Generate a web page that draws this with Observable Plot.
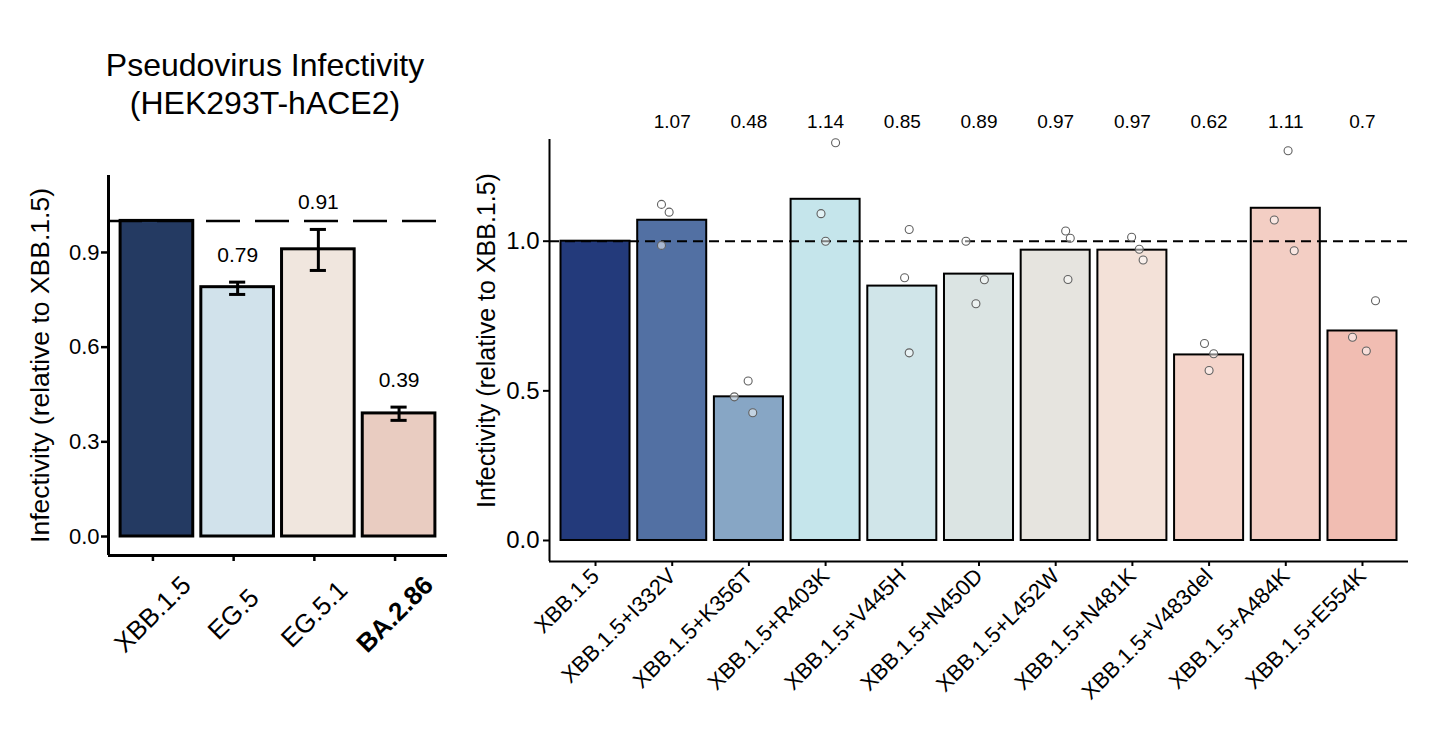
<!DOCTYPE html>
<html><head><meta charset="utf-8">
<script src="https://cdn.jsdelivr.net/npm/d3@7"></script>
<script src="https://cdn.jsdelivr.net/npm/@observablehq/plot@0.6"></script>
<style>
body{margin:0;background:#fff;}
#wrap{position:relative;width:1429px;height:747px;font-family:"Liberation Sans",Arial,sans-serif;overflow:hidden;}
#title{position:absolute;left:65px;width:400px;top:46px;text-align:center;font-size:32px;line-height:38px;color:#000;}
#left{position:absolute;left:0;top:150px;}
#right{position:absolute;left:440px;top:100px;}
</style></head><body>
<div id="wrap"><div id="title">Pseudovirus Infectivity<br>(HEK293T-hACE2)</div><div id="left"></div><div id="right"></div></div>
<script>
// ---- Left panel data ----
const leftNames  = ["XBB.1.5", "EG.5", "EG.5.1", "BA.2.86"];
const leftMeans  = [1.00, 0.79, 0.91, 0.39];
const leftErrLo  = [null, 0.767, 0.843, 0.368];
const leftErrHi  = [null, 0.806, 0.973, 0.410];
const leftLabels = [null, "0.79", "0.91", "0.39"];
const leftColors = ["#243a62", "#d1e2eb", "#f0e6de", "#e9ccc1"];
const leftYTicks = [0, 0.3, 0.6, 0.9];

// ---- Right panel data ----
const rightNames = ["XBB.1.5", "XBB.1.5+I332V", "XBB.1.5+K356T", "XBB.1.5+R403K", "XBB.1.5+V445H",
  "XBB.1.5+N450D", "XBB.1.5+L452W", "XBB.1.5+N481K", "XBB.1.5+V483del", "XBB.1.5+A484K", "XBB.1.5+E554K"];
const rightMeans  = [1.00, 1.07, 0.48, 1.14, 0.85, 0.89, 0.97, 0.97, 0.62, 1.11, 0.70];
const rightLabels = [null, "1.07", "0.48", "1.14", "0.85", "0.89", "0.97", "0.97", "0.62", "1.11", "0.7"];
const rightColors = ["#233a7b", "#5270a3", "#87a6c5", "#c5e5eb", "#d0e5e9", "#dbe4e3",
  "#e6e4df", "#f3e1d8", "#f4d4ca", "#f3cec4", "#f1bdb2"];
// replicate values (XBB.1.5 reference has none drawn)
const rep1 = [null, 1.123, 0.533, 1.329, 1.039, 1.000, 1.034, 1.013, 0.658, 1.302, 0.801];
const rep2 = [null, 1.097, 0.480, 1.092, 0.878, 0.871, 1.010, 0.973, 0.624, 1.071, 0.679];
const rep3 = [null, 0.986, 0.427, 1.000, 0.627, 0.791, 0.872, 0.937, 0.568, 0.968, 0.633];
// horizontal jitter of replicates (in category units)
const jit1 = [0, -0.14, -0.01, 0.13, 0.09, -0.17, 0.13, -0.01, -0.06, 0.03, 0.17];
const jit2 = [0, -0.04, -0.19, -0.06, 0.03, 0.07, 0.19, 0.09, 0.06, -0.15, -0.13];
const jit3 = [0, -0.14, 0.05, 0.00, 0.09, -0.04, 0.16, 0.14, 0.00, 0.11, 0.05];
const rightYTicks = [0, 0.5, 1.0];

const FONT = "'Liberation Sans', Arial, sans-serif";
const BAR_W = 0.45;

// ---------- Left plot ----------
const leftData = leftNames.map((name, k) => ({i: k + 1, name, mean: leftMeans[k], lo: leftErrLo[k], hi: leftErrHi[k], label: leftLabels[k], fill: leftColors[k]}));
const errData = leftData.filter(d => d.lo != null);
const leftXDomain = [0.4, leftNames.length + 0.6];
const leftYDomain = [-0.0602, 1.1439];

const leftPlot = Plot.plot({
  width: 460, height: 560,
  marginLeft: 108, marginRight: 13, marginTop: 25, marginBottom: 155,
  x: {type: "linear", domain: leftXDomain, axis: null},
  y: {domain: leftYDomain, axis: null},
  color: {type: "identity"},
  style: {fontFamily: FONT, background: "transparent", color: "#000", overflow: "visible"},
  marks: [
    Plot.rect(leftData, {x1: d => d.i - BAR_W, x2: d => d.i + BAR_W, y1: 0, y2: "mean", fill: "fill", stroke: "#000", strokeWidth: 3}),
    Plot.ruleY([1], {stroke: "#000", strokeWidth: 2.5, strokeDasharray: "34,15"}),
    Plot.ruleX(errData, {x: "i", y1: "lo", y2: "hi", stroke: "#000", strokeWidth: 3}),
    Plot.ruleY(errData, {y: "lo", x1: d => d.i - 0.1, x2: d => d.i + 0.1, stroke: "#000", strokeWidth: 3}),
    Plot.ruleY(errData, {y: "hi", x1: d => d.i - 0.1, x2: d => d.i + 0.1, stroke: "#000", strokeWidth: 3}),
    Plot.text(errData, {x: "i", y: "hi", text: "label", dy: -27, fontSize: 21, fill: "#000"}),
    Plot.ruleX([leftXDomain[0]], {stroke: "#000", strokeWidth: 3}),
    Plot.ruleY([leftYDomain[0]], {stroke: "#000", strokeWidth: 3}),
    Plot.axisY({ticks: leftYTicks, tickFormat: d => d.toFixed(1), tickSize: 7, tickPadding: 2, fontSize: 22, strokeWidth: 2.5, label: null}),
    Plot.axisX({ticks: d3.range(1, leftNames.length + 1), tickFormat: i => leftNames[i - 1], tickSize: 6, strokeWidth: 2.5,
      tickRotate: -45, textAnchor: "middle", lineAnchor: "middle", tickPadding: 53, dx: -4, fontSize: 26, label: null}),
    Plot.text(["Infectivity (relative to XBB.1.5)"], {frameAnchor: "left", textAnchor: "middle", lineAnchor: "middle", rotate: -90, dx: -68, fontSize: 26.5, fill: "#000"})
  ]
});
d3.select(leftPlot).selectAll("text").filter(function() { return this.textContent === "BA.2.86"; }).attr("font-weight", "bold");
document.getElementById("left").appendChild(leftPlot);

// ---------- Right plot ----------
const rightData = rightNames.map((name, k) => ({i: k + 1, name, mean: rightMeans[k], label: rightLabels[k], fill: rightColors[k]}));
const pts = [];
rightNames.forEach((name, k) => {
  [[rep1, jit1], [rep2, jit2], [rep3, jit3]].forEach(([r, j]) => {
    if (r[k] != null) pts.push({i: k + 1, v: r[k], jit: j[k]});
  });
});
const rightXDomain = [0.4, rightNames.length + 0.6];
const rightYDomain = [-0.0702, 1.3398];

const rightPlot = Plot.plot({
  width: 989, height: 620,
  marginLeft: 109, marginRight: 21, marginTop: 39, marginBottom: 159,
  x: {type: "linear", domain: rightXDomain, axis: null},
  y: {domain: rightYDomain, axis: null},
  color: {type: "identity"},
  style: {fontFamily: FONT, background: "transparent", color: "#000", overflow: "visible"},
  marks: [
    Plot.rect(rightData, {x1: d => d.i - BAR_W, x2: d => d.i + BAR_W, y1: 0, y2: "mean", fill: "fill", stroke: "#000", strokeWidth: 2}),
    Plot.ruleY([1], {stroke: "#000", strokeWidth: 2, strokeDasharray: "10,6"}),
    Plot.dot(pts, {x: d => d.i + d.jit, y: "v", r: 4, stroke: "#606060", strokeWidth: 1.1, fill: "#ffffff", fillOpacity: 0.5}),
    Plot.text(rightData.filter(d => d.label != null), {x: "i", frameAnchor: "top", lineAnchor: "middle", dy: -18, text: "label", fontSize: 19, fill: "#000"}),
    Plot.ruleX([rightXDomain[0]], {stroke: "#000", strokeWidth: 2}),
    Plot.ruleY([rightYDomain[0]], {stroke: "#000", strokeWidth: 2}),
    Plot.axisY({ticks: rightYTicks, tickFormat: d => d.toFixed(1), tickSize: 6, tickPadding: 4, fontSize: 24, strokeWidth: 2, label: null}),
    Plot.axisX({ticks: d3.range(1, rightNames.length + 1), tickFormat: i => rightNames[i - 1], tickSize: 5, strokeWidth: 2,
      tickRotate: -45, tickPadding: 6, fontSize: 22, label: null}),
    Plot.text(["Infectivity (relative to XBB.1.5)"], {frameAnchor: "left", textAnchor: "middle", lineAnchor: "middle", rotate: -90, dx: -63, dy: -10, fontSize: 25, fill: "#000"})
  ]
});
document.getElementById("right").appendChild(rightPlot);
</script>
</body></html>
